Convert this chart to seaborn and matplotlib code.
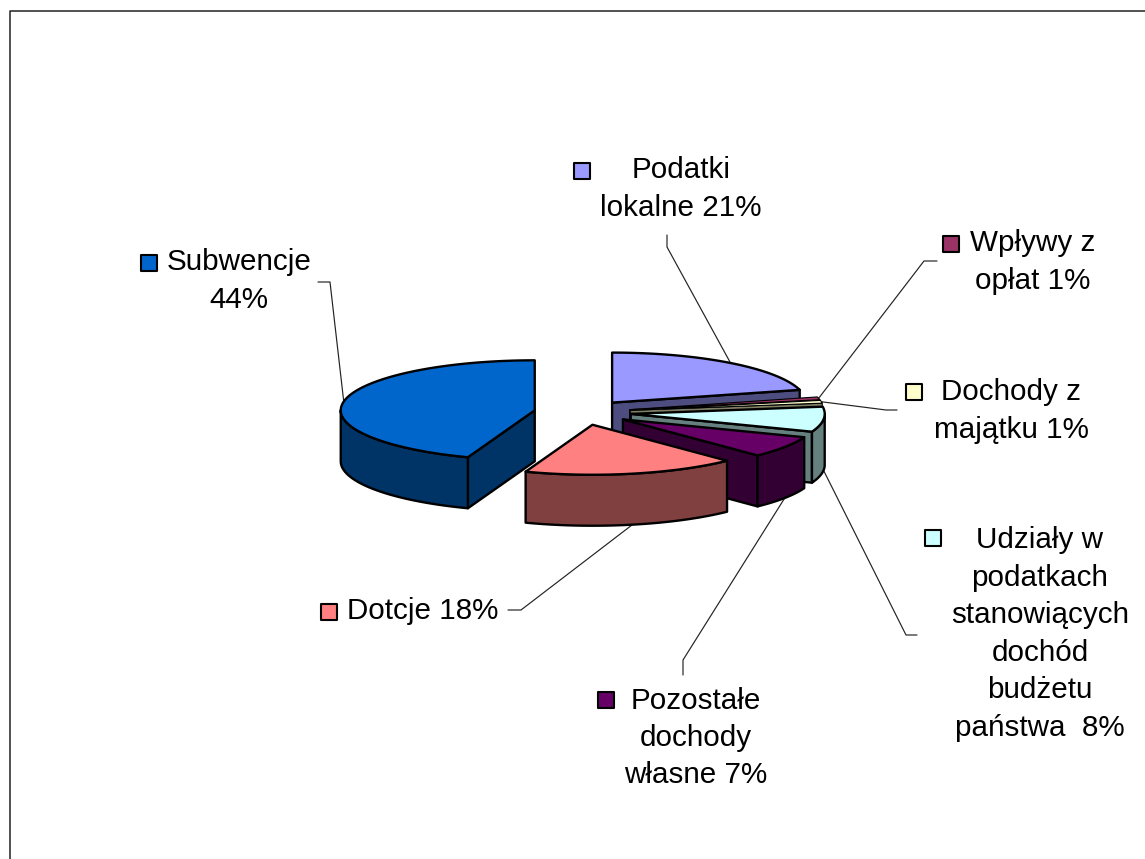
import numpy as np
import pandas as pd
import matplotlib
matplotlib.use('Agg')
import matplotlib.pyplot as plt
from matplotlib.colors import to_rgb
import seaborn as sns

# Slices in clockwise order from 12 o'clock
labels = ['Podatki\nlokalne 21%', 'Wpływy z\nopłat 1%', 'Dochody z\nmajątku 1%',
          'Udziały w\npodatkach\nstanowiących\ndochód\nbudżetu\npaństwa  8%',
          'Pozostałe\ndochody\nwłasne 7%', 'Dotcje 18%', 'Subwencje\n44%']
shares = [20.9, 0.9, 0.9, 8.1, 7.0, 17.8, 44.4]  # labels are rounded
colors = ['#9999FF', '#993366', '#FFFFCC', '#CCFFFF', '#660066', '#FF8080', '#0066CC']

# Label layout (pixels): text centre, first line y, key position, leader elbow points
text_x = [681, 1033, 1011, 1040, 696, 423, 239]
text_y = [170, 243, 392, 539, 700, 611, 262]
key_x = [582, 951, 914, 933, 606, 329, 149]
key_y = [171, 244, 392, 538, 700, 612, 263]
leaders = [[(667, 235), (667, 247)], [(937, 261), (924, 261)], [(897, 410), (886, 410)],
           [(917, 635), (906, 635)], [(683, 675), (683, 660)], [(508, 610), (521, 610)],
           [(318, 282), (330, 282)]]
leader_on_bottom = [False, False, False, True, True, True, False]

# Pie geometry in pixels
CX, CY = 582.5, 412.5
RX, RY = 194, 50
DEPTH = 51
EXPLODE = 0.25
LINE_H = 38

sns.set_theme(style='white')
plt.rcParams['font.family'] = ['Liberation Sans', 'DejaVu Sans']

fig = plt.figure(figsize=(11.45, 8.59), dpi=100)
ax = fig.add_axes([0, 0, 1, 1])
ax.set_xlim(0, 1145)
ax.set_ylim(859, 0)
ax.axis('off')

# Outer frame, only the top and left sides are on the picture
ax.plot([10, 10, 1145], [859, 11, 11], color='#222222', lw=1.1, zorder=1)

palette = sns.color_palette(colors)
edges = np.cumsum([0] + shares) / sum(shares) * 2 * np.pi


def point(cx, cy, a):
    return cx + RX * np.sin(a), cy - RY * np.cos(a)


def draw_face(xs, ys, color, z, lw=1.7):
    ax.fill(xs, ys, facecolor=color, edgecolor='black', lw=lw, joinstyle='round', zorder=z)


def draw_wall(xs, ys, color, z, lw=1.7):
    xs = np.asarray(xs)
    ys = np.asarray(ys)
    draw_face(np.r_[xs, xs[::-1]], np.r_[ys, ys[::-1] + DEPTH], color, z, lw)


mids = (edges[:-1] + edges[1:]) / 2
centers = [point(CX, CY, m) for m in mids]
centers = [(CX + EXPLODE * (x - CX), CY + EXPLODE * (y - CY)) for x, y in centers]

# back slices first
for z, i in enumerate(np.argsort(-np.cos(mids))):
    a0, a1 = edges[i], edges[i + 1]
    cx, cy = centers[i]
    top = palette[i]
    side = tuple(np.array(to_rgb(top)) * 0.5)
    base = 10 + z * 5
    lw = 0.8 if shares[i] < 2 else 1.7  # thin wedges would be all outline otherwise

    # radial walls that face the viewer
    if np.sin(a0) < -1e-6:
        x, y = point(cx, cy, a0)
        draw_wall([cx, x], [cy, y], side, base, lw)
    if np.sin(a1) > 1e-6:
        x, y = point(cx, cy, a1)
        draw_wall([cx, x], [cy, y], side, base, lw)

    # outer wall, front half of the rim only
    lo, hi = max(a0, np.pi / 2), min(a1, 3 * np.pi / 2)
    if hi > lo:
        t = np.linspace(lo, hi, 80)
        draw_wall(*point(cx, cy, t), side, base + 1, lw)

    t = np.linspace(a0, a1, 120)
    x, y = point(cx, cy, t)
    draw_face(np.r_[cx, x], np.r_[cy, y], top, base + 2, lw)

# Leader lines end on the rim at the middle of each slice
for i, elbow in enumerate(leaders):
    x, y = point(*centers[i], mids[i])
    if leader_on_bottom[i]:
        y += DEPTH
    xs = [p[0] for p in elbow] + [x]
    ys = [p[1] for p in elbow] + [y]
    ax.plot(xs, ys, color='#222222', lw=0.85, zorder=5)

# Keys and labels
keys = pd.DataFrame({'x': key_x, 'y': key_y, 'label': labels})
sns.scatterplot(data=keys, x='x', y='y', hue='label', palette=colors, marker='s', s=125,
                edgecolor='black', linewidth=1.5, legend=False, ax=ax, zorder=70)
ax.set_xlim(0, 1145)
ax.set_ylim(859, 0)
ax.axis('off')

for i, text in enumerate(labels):
    n = text.count('\n')
    ax.text(text_x[i], text_y[i] + n * LINE_H / 2, text, ha='center', va='center',
            multialignment='center', fontsize=21.3, linespacing=1.43, color='black', zorder=80)

fig.savefig('out.png', dpi=100, facecolor='white')
